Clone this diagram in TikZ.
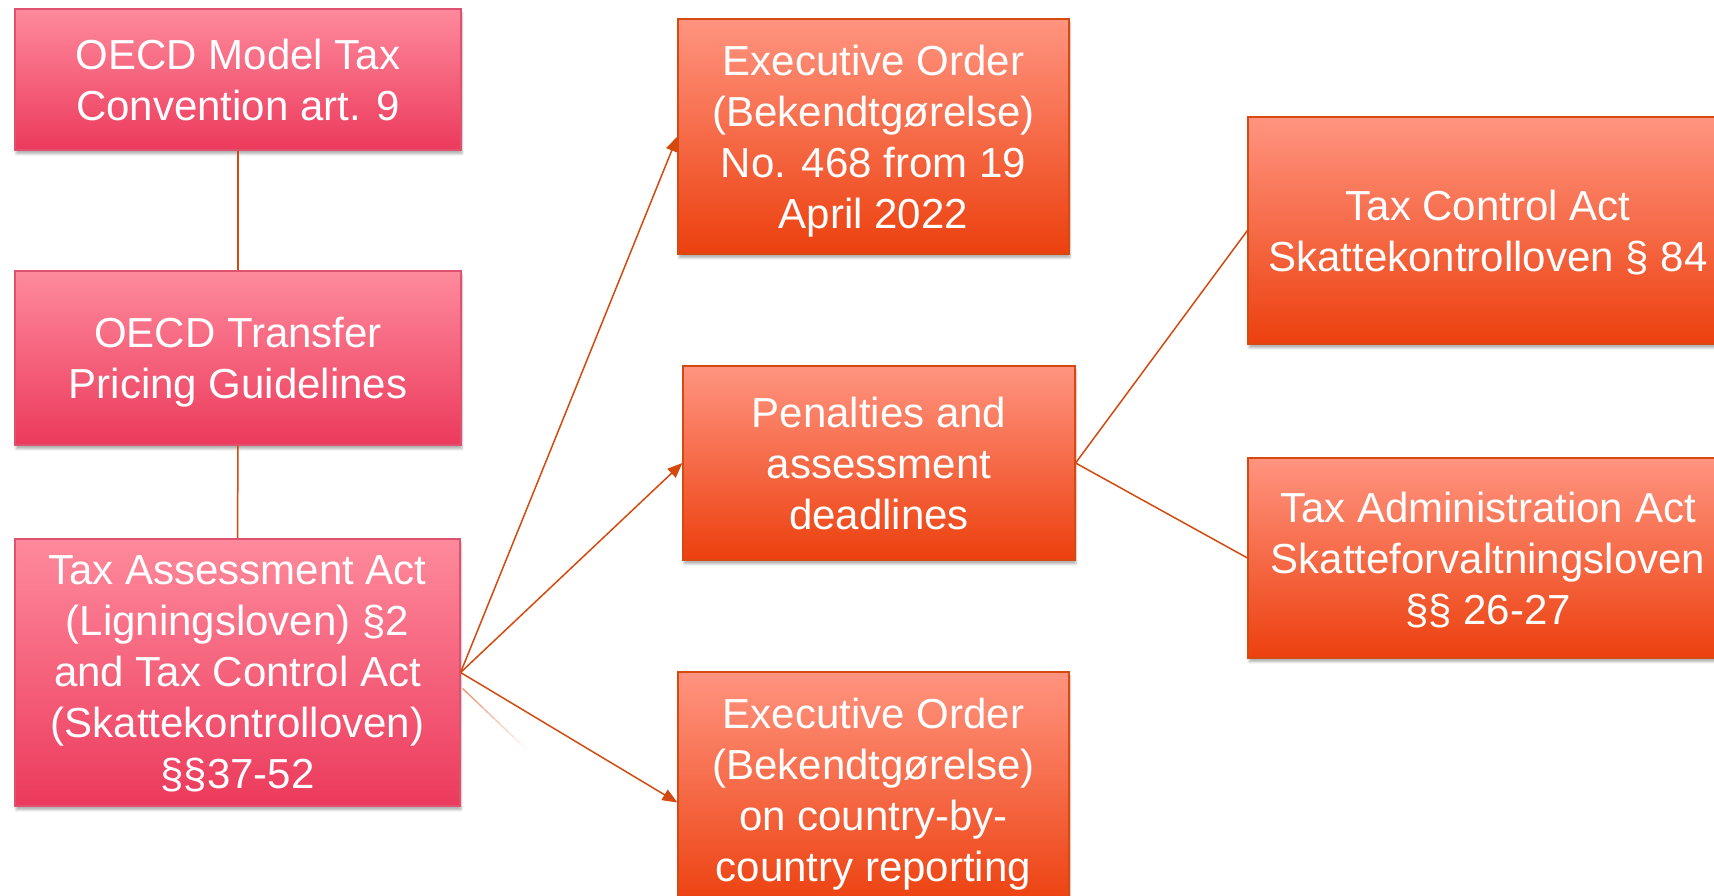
\documentclass[tikz,border=0pt]{standalone}
\usepackage{fontspec}
\setmainfont{Liberation Sans}
\usetikzlibrary{arrows.meta,shadows.blur,calc}
\definecolor{pinktop}{RGB}{254,138,156}
\definecolor{pinkbot}{RGB}{236,58,92}
\definecolor{pinkline}{RGB}{222,82,112}
\definecolor{orgtop}{RGB}{255,148,128}
\definecolor{orgbot}{RGB}{236,64,14}
\definecolor{orgline}{RGB}{214,74,18}
\definecolor{conn}{RGB}{212,74,14}
\tikzset{
  box/.style={rectangle, draw, line width=1.2pt, text=white, align=center,
    font=\fontsize{42}{51}\selectfont, inner sep=0pt, text depth=0pt,
    blur shadow={shadow xshift=1pt, shadow yshift=-4pt, shadow blur steps=6, shadow opacity=30}},
  pinkbox/.style={box, draw=pinkline, top color=pinktop, bottom color=pinkbot},
  orgbox/.style={box, draw=orgline, top color=orgtop, bottom color=orgbot},
  link/.style={draw=conn, line width=1.5pt},
  arrowlink/.style={link, -{Triangle[length=15pt,width=12pt]}}
}
\begin{document}
\begin{tikzpicture}[x=1pt,y=1pt]
\useasboundingbox (0,0) rectangle (1714,896);
\clip (0,0) rectangle (1714,896);
% left column
\node[pinkbox, minimum width=446pt, minimum height=141pt] (A) at (238,816.5)
  {OECD Model Tax\\Convention art. 9};
\node[pinkbox, minimum width=446pt, minimum height=174pt] (B) at (238,538)
  {OECD Transfer\\Pricing Guidelines};
\node[pinkbox, minimum width=445pt, minimum height=267pt] (C) at (237.5,223.5)
  {Tax Assessment Act\\(Ligningsloven) §2\\and Tax Control Act\\(Skattekontrolloven)\\§§37-52};
% middle column
\node[orgbox, minimum width=391pt, minimum height=235pt] (D) at (873.5,759.5)
  {Executive Order\\(Bekendtgørelse)\\No. 468 from 19\\April 2022};
\node[orgbox, minimum width=392pt, minimum height=194pt] (E) at (879,433)
  {Penalties and\\assessment\\deadlines};
\node[orgbox, minimum width=391pt, minimum height=235pt] (F) at (873.5,106.5)
  {Executive Order\\(Bekendtgørelse)\\on country-by-\\country reporting};
% right column
\node[orgbox, minimum width=480pt, minimum height=227pt] (G) at (1488,665.5)
  {Tax Control Act\\Skattekontrolloven § 84};
\node[orgbox, minimum width=480pt, minimum height=200pt] (H) at (1488,338)
  {Tax Administration Act\\Skatteforvaltningsloven\\§§ 26-27};
% connectors
\draw[link] (A.south) -- (B.north);
\draw[link] (B.south) -- (C.north);
\draw[arrowlink] (C.east) -- (D.west);
\draw[arrowlink] (C.east) -- (E.west);
\draw[arrowlink] (C.east) -- ($(F.west)+(0,-13)$);
\draw[link] (E.east) -- (G.west);
\draw[link] (E.east) -- (H.west);
% faint fading line
\coordinate (f0) at ($(C.east)+(2,-16)$);
\coordinate (f1) at ($(C.east)+(65,-76)$);
\foreach \i in {0,...,9}{
  \pgfmathsetmacro{\op}{0.55*(1-\i/10)}
  \draw[conn, line width=1.5pt, opacity=\op]
    ($(f0)!\i/10!(f1)$) -- ($(f0)!{(\i+1)/10}!(f1)$);
}
\end{tikzpicture}
\end{document}
